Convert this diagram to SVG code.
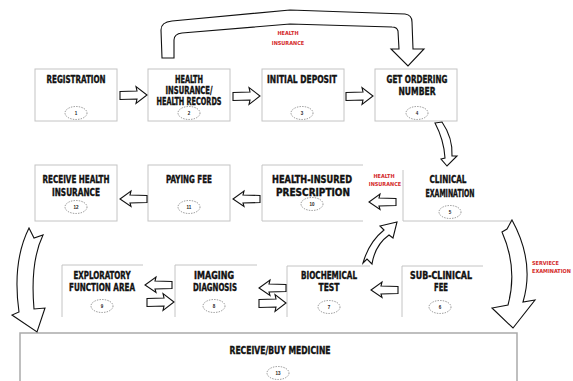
<svg xmlns="http://www.w3.org/2000/svg" width="573" height="381" viewBox="0 0 573 381">
  <style>
    .box { fill: #fff; stroke: #c4c4c4; stroke-width: 1; }
    .edge { fill: none; stroke: #c4c4c4; stroke-width: 1; }
    .lbl { font-family: "Liberation Sans Narrow", "DejaVu Sans Condensed", "Liberation Sans", sans-serif; font-weight: bold; font-size: 10px; fill: #111; stroke: #111; stroke-width: 0.35; text-anchor: middle; }
    .num { font-family: "Liberation Sans", sans-serif; font-weight: bold; font-size: 4.5px; fill: #222; text-anchor: middle; }
    .tag { font-family: "Liberation Sans Narrow", "DejaVu Sans Condensed", "Liberation Sans", sans-serif; font-weight: bold; font-size: 5.5px; fill: #d42a2a; }
    .badge { fill: #fff; stroke: #666; stroke-width: 0.7; stroke-dasharray: 1.4 1.2; }
    .arr { fill: #fff; stroke: #111; stroke-width: 1.1; stroke-linejoin: miter; }
  </style>
  <defs>
    <!-- block arrow pointing right, tail at x=0 -->
    <path id="blockR" d="M0,-3.5 L17,-4 L16,-8.5 L27,0 L16,8.5 L17,4 L0,4.5 Z"/>
    <!-- block arrow pointing left, tail at x=0 -->
    <path id="blockL" d="M0,-3.5 L-17,-4 L-16,-8 L-27,0 L-16,7.5 L-17,4 L0,3.5 Z"/>
  </defs>

  <rect width="573" height="381" fill="#fff"/>

  <!-- row 1 -->
  <g id="n1">
    <rect class="box" x="35" y="69" width="82" height="52"/>
    <text class="lbl" x="76" y="83" textLength="59" lengthAdjust="spacingAndGlyphs">REGISTRATION</text>
    <ellipse class="badge" cx="76" cy="113" rx="11" ry="6.5"/>
    <text class="num" x="76" y="114.6">1</text>
  </g>
  <g id="n2">
    <rect class="box" x="148" y="69" width="82" height="52"/>
    <text class="lbl" x="189" y="83" textLength="28" lengthAdjust="spacingAndGlyphs">HEALTH</text>
    <text class="lbl" x="189" y="94" textLength="47" lengthAdjust="spacingAndGlyphs">INSURANCE/</text>
    <text class="lbl" x="189" y="105" textLength="65" lengthAdjust="spacingAndGlyphs">HEALTH RECORDS</text>
    <ellipse class="badge" cx="189" cy="113" rx="11" ry="6.5"/>
    <text class="num" x="189" y="114.6">2</text>
  </g>
  <g id="n3">
    <rect class="box" x="262" y="69" width="82" height="52"/>
    <text class="lbl" x="302" y="83" textLength="70" lengthAdjust="spacingAndGlyphs">INITIAL DEPOSIT</text>
    <ellipse class="badge" cx="302" cy="113" rx="11" ry="6.5"/>
    <text class="num" x="302" y="114.6">3</text>
  </g>
  <g id="n4">
    <rect class="box" x="375" y="69" width="82" height="52"/>
    <text class="lbl" x="417" y="83" textLength="61" lengthAdjust="spacingAndGlyphs">GET ORDERING</text>
    <text class="lbl" x="417" y="95" textLength="37" lengthAdjust="spacingAndGlyphs">NUMBER</text>
    <ellipse class="badge" cx="417" cy="113" rx="11" ry="6.5"/>
    <text class="num" x="417" y="114.6">4</text>
  </g>

  <!-- row 2 -->
  <g id="n12">
    <rect class="box" x="35" y="165" width="82" height="56"/>
    <text class="lbl" x="76" y="183" textLength="67" lengthAdjust="spacingAndGlyphs">RECEIVE HEALTH</text>
    <text class="lbl" x="76" y="196" textLength="48" lengthAdjust="spacingAndGlyphs">INSURANCE</text>
    <ellipse class="badge" cx="76" cy="207" rx="11" ry="6.5"/>
    <text class="num" x="76" y="208.6">12</text>
  </g>
  <g id="n11">
    <rect class="box" x="148" y="165" width="82" height="56"/>
    <text class="lbl" x="189" y="183" textLength="46" lengthAdjust="spacingAndGlyphs">PAYING FEE</text>
    <ellipse class="badge" cx="189" cy="207" rx="11" ry="6.5"/>
    <text class="num" x="189" y="208.6">11</text>
  </g>
  <g id="n10">
    <path class="edge" d="M363,165 H262 V221 H363"/>
    <text class="lbl" x="312" y="183" textLength="80" lengthAdjust="spacingAndGlyphs">HEALTH-INSURED</text>
    <text class="lbl" x="313" y="196" textLength="74" lengthAdjust="spacingAndGlyphs">PRESCRIPTION</text>
    <ellipse class="badge" cx="312" cy="204" rx="11" ry="6.5"/>
    <text class="num" x="312" y="205.6">10</text>
  </g>
  <g id="n5">
    <path class="edge" d="M403,170 V221 H512"/>
    <text class="lbl" x="448" y="183" textLength="37" lengthAdjust="spacingAndGlyphs">CLINICAL</text>
    <text class="lbl" x="450" y="197" textLength="49" lengthAdjust="spacingAndGlyphs">EXAMINATION</text>
    <ellipse class="badge" cx="450" cy="212" rx="11" ry="6.5"/>
    <text class="num" x="450" y="213.6">5</text>
  </g>

  <!-- row 3 -->
  <g id="n9">
    <path class="edge" d="M143,265 H62 V317"/>
    <text class="lbl" x="102" y="279" textLength="57" lengthAdjust="spacingAndGlyphs">EXPLORATORY</text>
    <text class="lbl" x="102" y="291" textLength="66" lengthAdjust="spacingAndGlyphs">FUNCTION AREA</text>
    <ellipse class="badge" cx="102" cy="306" rx="11" ry="6.5"/>
    <text class="num" x="102" y="307.6">9</text>
  </g>
  <g id="n8">
    <path class="edge" d="M257,265 H175 V317"/>
    <text class="lbl" x="214" y="279" textLength="40" lengthAdjust="spacingAndGlyphs">IMAGING</text>
    <text class="lbl" x="215" y="291" textLength="44" lengthAdjust="spacingAndGlyphs">DIAGNOSIS</text>
    <ellipse class="badge" cx="214" cy="306" rx="11" ry="6.5"/>
    <text class="num" x="214" y="307.6">8</text>
  </g>
  <g id="n7">
    <path class="edge" d="M370,266 H287 V317"/>
    <text class="lbl" x="329" y="279" textLength="56" lengthAdjust="spacingAndGlyphs">BIOCHEMICAL</text>
    <text class="lbl" x="329" y="291" textLength="21" lengthAdjust="spacingAndGlyphs">TEST</text>
    <ellipse class="badge" cx="329" cy="307" rx="11" ry="6.5"/>
    <text class="num" x="329" y="308.6">7</text>
  </g>
  <g id="n6">
    <path class="edge" d="M483,266 H402 V317"/>
    <text class="lbl" x="441" y="279" textLength="62" lengthAdjust="spacingAndGlyphs">SUB-CLINICAL</text>
    <text class="lbl" x="441" y="291" textLength="14" lengthAdjust="spacingAndGlyphs">FEE</text>
    <ellipse class="badge" cx="440" cy="307" rx="11" ry="6.5"/>
    <text class="num" x="440" y="308.6">6</text>
  </g>

  <!-- row 4 -->
  <g id="n13">
    <path d="M20,381 V333 H517 V381" fill="none" stroke="#aaa" stroke-width="1.5"/>
    <text class="lbl" x="280" y="354" textLength="101" lengthAdjust="spacingAndGlyphs">RECEIVE/BUY MEDICINE</text>
    <ellipse class="badge" cx="278" cy="373" rx="11" ry="6.5"/>
    <text class="num" x="278" y="374.6">13</text>
  </g>

  <!-- connectors -->
  <g id="connectors">
    <!-- straight block arrows -->
    <use href="#blockR" class="arr" x="120" y="95"/>
    <use href="#blockR" class="arr" x="233" y="96"/>
    <use href="#blockR" class="arr" x="346" y="96"/>
    <use href="#blockL" class="arr" x="147" y="199"/>
    <use href="#blockL" class="arr" x="260" y="199"/>
    <use href="#blockL" class="arr" x="396" y="202"/>
    <use href="#blockL" class="arr" x="172" y="285"/>
    <use href="#blockR" class="arr" x="147" y="302"/>
    <use href="#blockL" class="arr" x="286" y="288"/>
    <use href="#blockR" class="arr" x="259" y="303"/>
    <use href="#blockL" class="arr" x="398" y="290"/>

    <!-- bypass from health insurance to ordering number -->
    <path class="arr" d="M162,58 L161,30 Q161,22 172,21 L290,10 L405,14 Q412,15 412,22 L413,49 L424,49 L408,66 L391,49 L399,49 L398,31 Q397,27 392,27 L290,24 L182,33 Q174,34 174,40 L174,58 Z"/>
    <!-- ordering number to clinical examination -->
    <path class="arr" d="M435,123 L442,122 Q453,138 452,156 L457,156 L447,166 L441,159 L445,158 Q444,140 435,123 Z"/>
    <!-- biochemical test back to clinical examination -->
    <path class="arr" d="M363,263 L367,259 L372,264 Q375,245 389,235 L393,238 L397,222 L380,226 L384,230 Q369,242 363,263 Z"/>
    <!-- receive health insurance to receive/buy medicine -->
    <path class="arr" d="M29,228 L34,238 L43,235 Q30,262 34,309 L45,308 L37,332 L12,315 L19,312 Q12,262 29,228 Z"/>
    <!-- clinical examination to receive/buy medicine -->
    <path class="arr" d="M502,232 L507,229 L512,220 Q535,262 523,302 L535,300 L513,328 L492,308 L508,305 Q518,268 502,232 Z"/>

    <!-- connector labels -->
    <text class="tag" x="288" y="35" text-anchor="middle">HEALTH</text>
    <text class="tag" x="288" y="44.5" text-anchor="middle">INSURANCE</text>
    <text class="tag" x="384" y="178" text-anchor="middle">HEALTH</text>
    <text class="tag" x="385" y="185.5" text-anchor="middle">INSURANCE</text>
    <text class="tag" x="532" y="265">SERVIECE</text>
    <text class="tag" x="532" y="273">EXAMINATION</text>
  </g>
</svg>
